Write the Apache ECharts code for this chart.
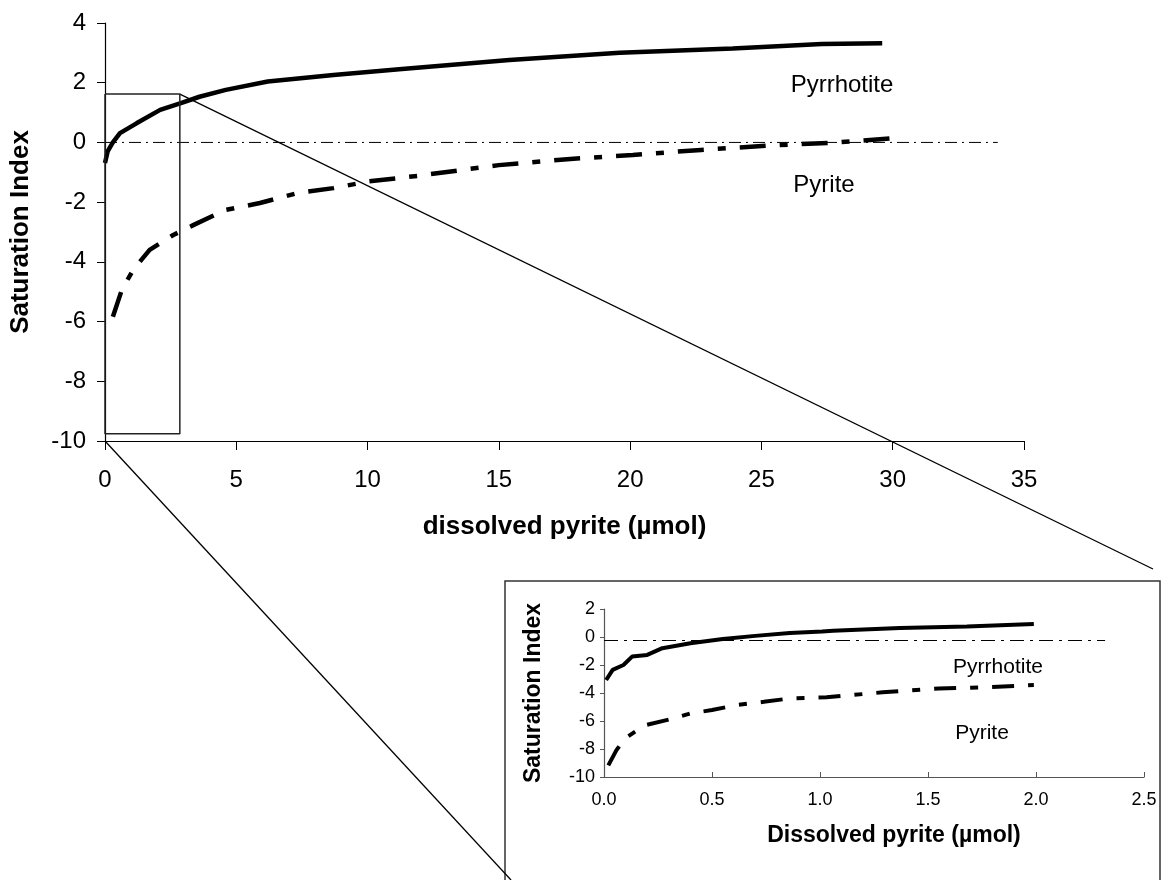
<!DOCTYPE html>
<html>
<head>
<meta charset="utf-8">
<script src="https://cdn.jsdelivr.net/npm/echarts@6/dist/echarts.min.js"></script>
<style>
  body { margin: 0; background: #fff; }
  #chart { width: 1163px; height: 880px; }
</style>
</head>
<body>
<div id="chart"></div>
<script>
// main plot: saturation index vs dissolved pyrite (umol)
const pyrrhotiteX = [0, 0.1, 0.3, 0.57, 1.2, 2.1, 2.86, 3.6, 4.6, 6.2, 8.7, 11.2, 15.4, 19.6, 23.9, 27.3, 29.6]
const pyrrhotiteY = [-0.69, -0.3, 0, 0.31, 0.64, 1.09, 1.31, 1.53, 1.76, 2.04, 2.26, 2.45, 2.76, 3.0, 3.15, 3.3, 3.32]
const pyriteX = [0.3, 0.64, 1.07, 1.7, 2.6, 3.36, 4.6, 5.9, 7.4, 8.7, 10, 11.9, 15, 17.6, 20.1, 22.7, 25.2, 27.7, 30]
const pyriteY = [-5.84, -4.94, -4.27, -3.6, -3.1, -2.77, -2.26, -2.03, -1.68, -1.53, -1.31, -1.12, -0.76, -0.56, -0.42, -0.25, -0.11, -0.01, 0.14]
const zeroLineX = [0, 34]
const zeroLineY = [0, 0]

// inset plot: first 2 umol
const insetPyrrhotiteX = [0.01, 0.04, 0.09, 0.13, 0.2, 0.27, 0.4, 0.55, 0.7, 0.86, 1.01, 1.06, 1.37, 1.68, 1.99]
const insetPyrrhotiteY = [-3.07, -2.35, -2.0, -1.4, -1.28, -0.8, -0.44, -0.15, 0.08, 0.28, 0.39, 0.44, 0.64, 0.75, 0.92]
const insetPyriteX = [0.02, 0.057, 0.096, 0.19, 0.3, 0.4, 0.5, 0.61, 0.74, 0.86, 1.03, 1.29, 1.55, 1.75, 1.99]
const insetPyriteY = [-9.17, -8.1, -7.25, -6.3, -5.9, -5.46, -5.22, -4.87, -4.63, -4.39, -4.31, -3.95, -3.67, -3.6, -3.43]
const insetZeroX = [0, 2.32]
const insetZeroY = [-0.25, -0.25]

// zoom box drawn on the main plot (x from..to, y from..to)
const zoomBoxX = [0, 2.85]
const zoomBoxY = [-9.76, 1.62]

const FONT = 'Liberation Sans, Arial, sans-serif'

function pairs (xs, ys) {
  return xs.map((x, i) => [x, ys[i]])
}

const boxData = [
  [zoomBoxX[0], zoomBoxY[1]], [zoomBoxX[1], zoomBoxY[1]],
  [zoomBoxX[1], zoomBoxY[0]], [zoomBoxX[0], zoomBoxY[0]],
  [zoomBoxX[0], zoomBoxY[1]]
]

const myChart = echarts.init(document.getElementById('chart'))

function axisCommon (size, nameSize, margin, color) {
  return {
    axisLine: { show: true, onZero: false, lineStyle: { color: color, width: 1.2 } },
    splitLine: { show: false },
    axisLabel: { color: '#000', fontFamily: FONT, fontSize: size, margin: margin },
    nameTextStyle: { color: '#000', fontFamily: FONT, fontWeight: 'bold', fontSize: nameSize }
  }
}

const option = {
  animation: false,
  backgroundColor: '#fff',
  grid: [
    { left: 105, right: 139, top: 23, bottom: 439 },
    { left: 604, right: 19, top: 609, bottom: 103 }
  ],
  xAxis: [
    Object.assign(axisCommon(24, 26, 27, '#000'), {
      type: 'value', gridIndex: 0, min: 0, max: 35, interval: 5,
      name: 'dissolved pyrite (µmol)', nameLocation: 'middle', nameGap: 73,
      axisTick: { show: true, inside: false, length: 9, lineStyle: { color: '#000' } }
    }),
    Object.assign(axisCommon(18, 23, 14, '#555'), {
      type: 'value', gridIndex: 1, min: 0, max: 2.5, interval: 0.5,
      name: 'Dissolved pyrite (µmol)', nameLocation: 'middle', nameGap: 47,
      axisTick: { show: true, inside: true, length: 5, lineStyle: { color: '#555' } }
    })
  ],
  yAxis: [
    Object.assign(axisCommon(24, 26, 19, '#000'), {
      type: 'value', gridIndex: 0, min: -10, max: 4, interval: 2,
      name: 'Saturation Index', nameLocation: 'middle', nameGap: 71,
      axisTick: { show: true, inside: false, length: 8, lineStyle: { color: '#000' } }
    }),
    Object.assign(axisCommon(18, 23, 9, '#555'), {
      type: 'value', gridIndex: 1, min: -10, max: 2, interval: 2,
      name: 'Saturation Index', nameLocation: 'middle', nameGap: 59,
      axisTick: { show: true, inside: false, length: 4, lineStyle: { color: '#555' } }
    })
  ],
  series: [
    {
      name: 'zero', type: 'line', xAxisIndex: 0, yAxisIndex: 0,
      data: pairs(zeroLineX, zeroLineY), showSymbol: false, silent: true,
      lineStyle: { color: '#000', width: 1, type: [12, 5, 2, 5] }
    },
    {
      name: 'Pyrrhotite', type: 'line', xAxisIndex: 0, yAxisIndex: 0,
      data: pairs(pyrrhotiteX, pyrrhotiteY), showSymbol: false,
      lineStyle: { color: '#000', width: 4.5 }
    },
    {
      name: 'Pyrite', type: 'line', xAxisIndex: 0, yAxisIndex: 0,
      data: pairs(pyriteX, pyriteY), showSymbol: false,
      lineStyle: { color: '#000', width: 4.5, type: [26, 14, 8, 14] }
    },
    {
      name: 'box', type: 'line', xAxisIndex: 0, yAxisIndex: 0,
      data: boxData, showSymbol: false, silent: true,
      lineStyle: { color: '#222', width: 1.5 }
    },
    {
      name: 'inset zero', type: 'line', xAxisIndex: 1, yAxisIndex: 1,
      data: pairs(insetZeroX, insetZeroY), showSymbol: false, silent: true,
      lineStyle: { color: '#000', width: 1, type: [14, 6, 3, 6] }
    },
    {
      name: 'inset Pyrrhotite', type: 'line', xAxisIndex: 1, yAxisIndex: 1,
      data: pairs(insetPyrrhotiteX, insetPyrrhotiteY), showSymbol: false,
      lineStyle: { color: '#000', width: 4 }
    },
    {
      name: 'inset Pyrite', type: 'line', xAxisIndex: 1, yAxisIndex: 1,
      data: pairs(insetPyriteX, insetPyriteY), showSymbol: false,
      lineStyle: { color: '#000', width: 4, type: [22, 14, 8, 14] }
    }
  ]
}

option.xAxis[1].axisLabel.formatter = v => v.toFixed(1)
// inset x title sits a little right of the axis centre
option.xAxis[1].nameTextStyle.padding = [0, 0, 0, 40]

myChart.setOption(option)

// connector lines from the zoom box to the inset frame
const boxTopRight = myChart.convertToPixel({ gridIndex: 0 }, [zoomBoxX[1], zoomBoxY[1]])
const origin = myChart.convertToPixel({ gridIndex: 0 }, [0, -10])

function label (text, x, y, size) {
  return {
    type: 'text', x: x, y: y,
    style: { text: text, fill: '#000', font: size + 'px ' + FONT, align: 'center', verticalAlign: 'middle' }
  }
}

myChart.setOption({
  graphic: [
    {
      type: 'rect', shape: { x: 505, y: 581, width: 655, height: 320 },
      style: { fill: 'none', stroke: '#333', lineWidth: 1.5 }
    },
    {
      type: 'line', shape: { x1: boxTopRight[0], y1: boxTopRight[1], x2: 1153, y2: 569 },
      style: { stroke: '#000', lineWidth: 1.3 }
    },
    {
      type: 'line', shape: { x1: origin[0], y1: origin[1], x2: 511, y2: 880 },
      style: { stroke: '#000', lineWidth: 1.3 }
    },
    label('Pyrrhotite', 842, 85, 24),
    label('Pyrite', 824, 185, 24),
    label('Pyrrhotite', 998, 667, 21),
    label('Pyrite', 982, 733, 21)
  ]
})
</script>
</body>
</html>
